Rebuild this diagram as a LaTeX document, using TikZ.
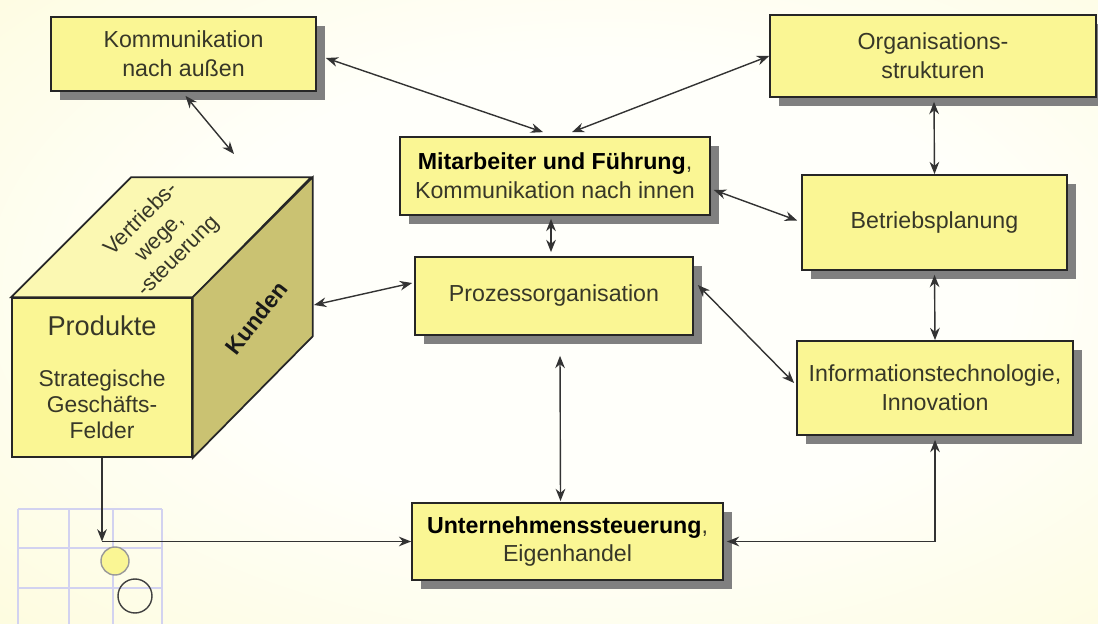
\documentclass[tikz,border=0pt]{standalone}
\usepackage{fontspec}
\setmainfont{Liberation Sans}
\usetikzlibrary{arrows.meta,shadows,calc}

\definecolor{boxgelb}{RGB}{250,246,148}
\definecolor{deckel}{RGB}{251,248,178}
\definecolor{seite}{RGB}{202,194,114}
\definecolor{schatten}{RGB}{128,128,128}
\definecolor{textgrau}{RGB}{55,55,40}
\definecolor{hgaussen}{RGB}{250,242,140}
\definecolor{hgmitte}{RGB}{252,249,200}
\definecolor{hginnen}{RGB}{255,255,250}
\definecolor{gitter}{RGB}{210,210,240}

\pgfdeclareradialshading{hintergrund}{\pgfpoint{0bp}{0bp}}{color(0bp)=(hginnen); color(16bp)=(hginnen); color(48bp)=(hgmitte); color(72bp)=(hgaussen)}

\tikzset{
  kasten/.style={draw=black!85, line width=1pt, fill=boxgelb, text=textgrau, align=center,
    font=\fontsize{13.2}{16.5}\selectfont,
    drop shadow={shadow xshift=0.18cm, shadow yshift=-0.18cm, fill=schatten, opacity=1}},
  pfeil/.style={{Stealth[length=7pt,width=5.5pt]}-{Stealth[length=7pt,width=5.5pt]}, draw=black!80, line width=0.8pt},
  einpfeil/.style={-{Stealth[length=7pt,width=5.5pt]}, draw=black!80, line width=0.8pt}
}

\begin{document}
\begin{tikzpicture}[x=0.02cm,y=-0.02cm]

 \useasboundingbox (0,0) rectangle (1098,624);
 \clip (0,0) rectangle (1098,624);
 \shade[shading=hintergrund] (-40,-70) rectangle (1240,650);

 % Kaesten
 \node[kasten, minimum width=5.3cm, minimum height=1.48cm] (komm) at (183.5,54) {Kommunikation\\nach außen};
 \node[kasten, minimum width=6.52cm, minimum height=1.64cm] (orga) at (933,56) {Organisations-\\strukturen};
 \node[kasten, minimum width=6.2cm, minimum height=1.56cm] (mit) at (555,176) {\textcolor{black}{\textbf{Mitarbeiter und Führung}},\\Kommunikation nach innen};
 \node[kasten, minimum width=5.3cm, minimum height=1.9cm] (betr) at (934.5,222.5) {Betriebsplanung};
 \node[kasten, minimum width=5.56cm, minimum height=1.56cm] (proz) at (554,296) {Prozessorganisation};
 \node[kasten, minimum width=5.52cm, minimum height=1.88cm] (info) at (935,388) {Informationstechnologie,\\Innovation};
 \node[kasten, minimum width=6.22cm, minimum height=1.54cm] (untern) at (567.5,541.5) {\textcolor{black}{\textbf{Unternehmenssteuerung}},\\Eigenhandel};

 % Wuerfel
 \node[draw=black!85, line width=1pt, fill=boxgelb, text=textgrau, align=center,
   minimum width=3.6cm, minimum height=3.18cm, font=\fontsize{13}{14.8}\selectfont] (prod) at (102,377.5)
   {{\fontsize{15.5}{16}\selectfont Produkte}\\[14pt]Strategische\\Geschäfts-\\Felder};
 \filldraw[draw=black!85, line width=1pt, fill=deckel] (prod.north west) -- ++(120,-120) -- ++(180,0) -- (prod.north east) -- cycle;
 \filldraw[draw=black!85, line width=1pt, fill=seite] (prod.north east) -- ++(120,-120) -- ++(0,159) -- (prod.south east) -- cycle;
 \node[rotate=45, align=center, text=textgrau, font=\fontsize{12.5}{15}\selectfont] (vertrieb) at (160,238) {Vertriebs-\\wege,\\-steuerung};
 \node[rotate=52, text=black!90, font=\bfseries\fontsize{13}{15}\selectfont] (kd) at (256,318) {Kunden};

 % Raster unten links
 \foreach \gx in {18,69,113,162} \draw[gitter, line width=0.6pt] (\gx,509) -- (\gx,624);
 \foreach \gy in {509,548,588} \draw[gitter, line width=0.6pt] (18,\gy) -- (162,\gy);
 \draw[black!40, fill=boxgelb, line width=0.8pt] (115,561) circle[radius=14];
 \draw[black!75, line width=0.8pt] (135,596) circle[radius=17];

 \coordinate (vt) at (234,154);
 \coordinate (kunden) at (314,305);
 \coordinate (knick) at (102,541.5);

 % Verbindungen
 \draw[pfeil] ($(komm.south)+(2,4)$) -- (vt);
 \draw[pfeil] ($(komm.east)+(9,4)$) -- ($(mit.north)+(-12,-4)$);
 \draw[pfeil] (orga.west) -- ($(mit.north)+(17,-4)$);
 \draw[pfeil] ($(orga.south)+(1,4)$) -- (betr.north);
 \draw[pfeil] ($(mit.east)+(3,14)$) -- ($(betr.west)+(-4,-2)$);
 \draw[pfeil] ($(mit.south)+(-4,3)$) -- ($(proz.north)+(-3,-4)$);
 \draw[pfeil] (kunden) -- ($(proz.west)+(-2,-13)$);
 \draw[pfeil] ($(proz.east)+(4,-11)$) -- ($(info.west)+(-2,-5)$);
 \draw[pfeil] ($(betr.south)+(0,4)$) -- (info.north);
 \draw[pfeil] ($(proz.south)+(6,20)$) -- ($(untern.north)+(-7,-1)$);
 \draw[pfeil] ($(untern.east)+(3,0)$) -| ($(info.south)+(0,4)$);
 \draw[einpfeil] (prod.south) -- (knick);
 \draw[einpfeil] (knick) -- (untern.west);

\end{tikzpicture}
\end{document}
